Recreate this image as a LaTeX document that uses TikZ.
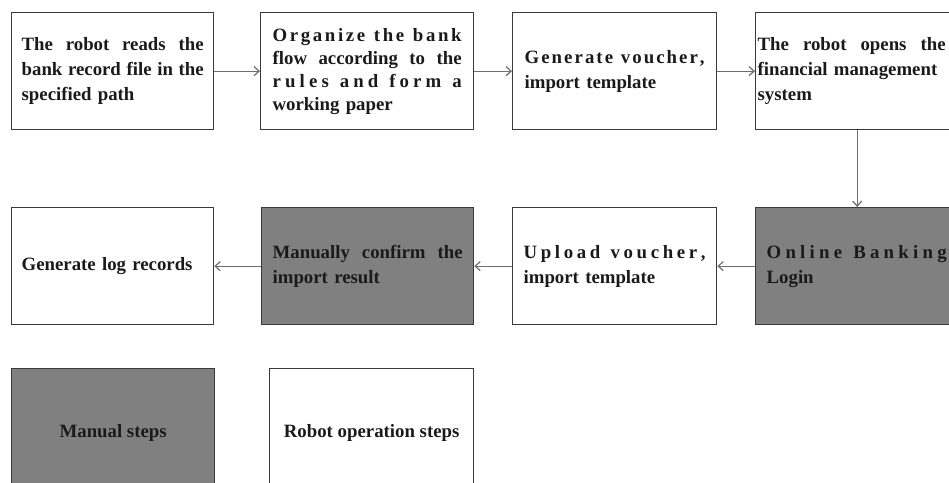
\documentclass[tikz,border=0pt]{standalone}
\usepackage{fontspec}
\setmainfont{Liberation Serif}
\usetikzlibrary{arrows.meta}
\definecolor{boxline}{HTML}{3A3A3A}
\definecolor{manfill}{HTML}{808080}
\definecolor{arrowcol}{HTML}{6E6E6E}
\definecolor{txt}{HTML}{1A1A1A}
\ExplSyntaxOn
\NewDocumentCommand\spreadline{mm}
  {
    \noindent
    \hbox_to_wd:nn {#1}
      {
        \bool_set_true:N \l_tmpa_bool
        \seq_set_split:Nnn \l_tmpa_seq { ~ } {#2}
        \seq_map_inline:Nn \l_tmpa_seq
          {
            \bool_if:NF \l_tmpa_bool { \hskip 0.25em plus 1.5fil \relax }
            \bool_set_false:N \l_tmpa_bool
            \tl_map_inline:nn {##1} { ####1 \hskip 0pt plus 1fil \relax }
            \unskip
          }
      }
  }
\NewDocumentCommand\jline{mm}
  {
    \noindent
    \hbox_to_wd:nn {#1}
      {
        \bool_set_true:N \l_tmpa_bool
        \seq_set_split:Nnn \l_tmpa_seq { ~ } {#2}
        \seq_map_inline:Nn \l_tmpa_seq
          {
            \bool_if:NF \l_tmpa_bool { \hskip 0.22em plus 1fil \relax }
            \bool_set_false:N \l_tmpa_bool
            ##1
          }
      }
  }
\ExplSyntaxOff
\tikzset{
  stepbox/.style={draw=boxline, line width=1.3pt, rectangle, minimum height=117pt,
    anchor=north west, align=left, text=txt, inner ysep=3pt,
    font=\fontsize{18.8}{25}\selectfont\bfseries},
  manualbox/.style={stepbox, fill=manfill},
  legendbox/.style={stepbox, align=center, minimum height=128pt},
  flow/.style={draw=arrowcol, line width=1.2pt, -{Straight Barb[length=5pt,width=9pt]}}
}
\begin{document}
\begin{tikzpicture}[x=1pt,y=-1pt]
\useasboundingbox (0,0) rectangle (949,482);
\clip (0,0) rectangle (949,482);
% row 1
\node[stepbox, minimum width=202pt, inner xsep=10pt, text width=182pt] (b1) at (11,12)
  {\jline{182pt}{The robot reads the}\\\jline{182pt}{bank record file in the}\\specified path};
\node[stepbox, minimum width=213pt, inner xsep=12pt, text width=189pt,
  font=\fontsize{18.8}{23}\selectfont\bfseries] (b2) at (260,12)
  {\spreadline{189pt}{Organize the bank}\\\jline{189pt}{flow according to the}\\\spreadline{189pt}{rules and form a}\\working paper};
\node[stepbox, minimum width=204pt, inner xsep=12pt, text width=180pt] (b3) at (512,12)
  {\spreadline{180pt}{Generate voucher,}\\import template};
\node[stepbox, minimum width=203pt, inner xsep=2pt, text width=199pt] (b4) at (755,12)
  {\jline{188pt}{The robot opens the}\\financial management\\system};
% row 2
\node[manualbox, minimum width=212pt, inner xsep=11pt, text width=190pt] (b5) at (755,207)
  {\spreadline{180pt}{Online Banking}\\Login};
\node[stepbox, minimum width=204pt, inner xsep=11pt, text width=182pt] (b6) at (512,207)
  {\spreadline{182pt}{Upload voucher,}\\import template};
\node[manualbox, minimum width=212pt, inner xsep=11pt, text width=190pt] (b7) at (261,207)
  {\jline{190pt}{Manually confirm the}\\import result};
\node[stepbox, minimum width=202pt, inner xsep=10pt, text width=182pt] (b8) at (11,207)
  {Generate log records};
% legend
\node[legendbox, fill=manfill, minimum width=203pt] (l1) at (11,368) {Manual steps};
\node[legendbox, minimum width=204pt] (l2) at (269,368) {Robot operation steps};
% connectors
\draw[flow] (b1.east) -- (b2.west);
\draw[flow] (b2.east) -- (b3.west);
\draw[flow] (b3.east) -- (b4.west);
\draw[flow] (b4.south) -- (b4.south |- b5.north);
\draw[flow] (b5.west) -- (b6.east);
\draw[flow] (b6.west) -- (b7.east);
\draw[flow] (b7.west) -- (b8.east);
\end{tikzpicture}
\end{document}
